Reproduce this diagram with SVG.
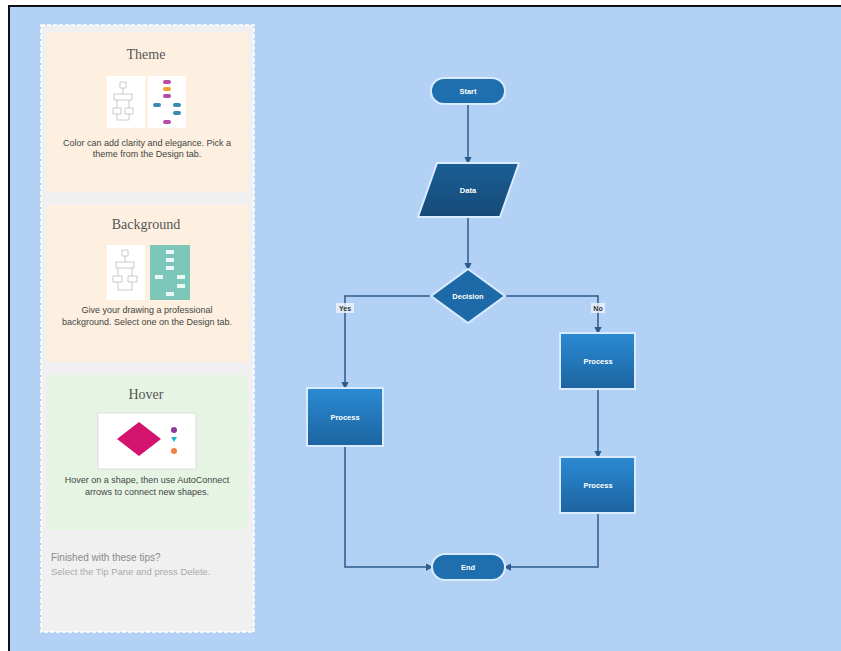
<svg xmlns="http://www.w3.org/2000/svg" width="841" height="651" viewBox="0 0 841 651">
<defs>
<style>
.conn{fill:none;stroke:#2b5a8c;stroke-width:1.5}
.lbl{font-family:"Liberation Sans",Arial,sans-serif;font-size:7.5px;font-weight:bold;fill:#fff;text-anchor:middle}
.title{font-family:"Liberation Serif",serif;font-size:14px;fill:#555;text-anchor:middle}
.body{font-family:"Liberation Sans",Arial,sans-serif;font-size:9px;fill:#444;text-anchor:middle}
.glow{stroke:#d9ecff;stroke-width:2}
.thumb{fill:none;stroke:#aaa;stroke-width:0.6}
</style>
<linearGradient id="gProc" x1="0" y1="0" x2="0" y2="1">
<stop offset="0" stop-color="#2b8ad3"/>
<stop offset="1" stop-color="#1c64a0"/>
</linearGradient>
<linearGradient id="gData" x1="0" y1="0" x2="0" y2="1">
<stop offset="0" stop-color="#1c5f94"/>
<stop offset="1" stop-color="#154a78"/>
</linearGradient>
<marker id="arr" viewBox="0 0 6 6" refX="5" refY="3" markerWidth="5" markerHeight="5" orient="auto">
<path d="M0,0 L6,3 L0,6 z" fill="#2b5a8c"/>
</marker>
</defs>
<rect x="0" y="0" width="841" height="651" fill="#ffffff"/>
<rect x="9" y="7" width="832" height="644" fill="#b3d1f5"/>
<line x1="8" y1="6" x2="841" y2="6" stroke="#111" stroke-width="2"/>
<line x1="9" y1="6" x2="9" y2="651" stroke="#111" stroke-width="2"/>

<g id="tip-pane">
<rect x="41" y="25" width="213" height="607" fill="#f0f0f0" stroke="#ffffff" stroke-width="1.5" stroke-dasharray="4,2"/>
<g id="card-theme">
<rect x="47" y="32" width="201" height="160" rx="3" fill="#fdf0e0"/>
<text class="title" x="146" y="59">Theme</text>
<rect x="107" y="76" width="38" height="52" fill="#fff"/>
<path class="thumb" d="M120,82h6v6h-6z M123,88v6 M114,94h18v6h-18z M117,100v8 M129,100v8 M113,108h8v6h-8z M125,108h8v6h-8z M117,114v6h12v-6"/>
<rect x="148" y="76" width="38" height="52" fill="#fff"/>
<rect x="163" y="80" width="8" height="4" rx="2" fill="#b44ca8"/>
<rect x="163" y="87" width="8" height="4" rx="2" fill="#f0a030"/>
<rect x="163" y="94" width="8" height="4" rx="2" fill="#b44ca8"/>
<rect x="153" y="103" width="8" height="4" rx="2" fill="#3a8ab0"/>
<rect x="173" y="103" width="8" height="4" rx="2" fill="#3a8ab0"/>
<rect x="173" y="111" width="8" height="4" rx="2" fill="#3a8ab0"/>
<rect x="163" y="120" width="8" height="4" rx="2" fill="#b44ca8"/>
<text class="body" x="147" y="146">Color can add clarity and elegance. Pick a</text>
<text class="body" x="147" y="157">theme from the Design tab.</text>
</g>
<g id="card-background">
<rect x="47" y="205" width="201" height="157" rx="3" fill="#fdf0e0"/>
<text class="title" x="146" y="229">Background</text>
<rect x="107" y="245" width="38" height="55" fill="#fff"/>
<path class="thumb" d="M122,250h6v6h-6z M125,256v6 M116,262h18v6h-18z M118,268v8 M132,268v8 M113,276h9v6h-9z M128,276h9v6h-9z M118,282v8h14v-8"/>
<rect x="150" y="245" width="40" height="55" fill="#7cc6ba"/>
<g fill="#e8f8f4">
<rect x="166" y="250" width="8" height="4"/>
<rect x="166" y="258" width="8" height="4"/>
<rect x="166" y="266" width="8" height="4"/>
<rect x="155" y="275" width="8" height="4"/>
<rect x="177" y="275" width="8" height="4"/>
<rect x="177" y="284" width="8" height="4"/>
<rect x="166" y="292" width="8" height="4"/>
</g>
<text class="body" x="147" y="313">Give your drawing a professional</text>
<text class="body" x="147" y="325">background. Select one on the Design tab.</text>
</g>
<g id="card-hover">
<rect x="47" y="375" width="201" height="155" rx="3" fill="#e6f4e4"/>
<text class="title" x="146" y="399">Hover</text>
<rect x="98" y="413" width="98" height="56" fill="#fff" stroke="#ccc" stroke-width="0.6"/>
<path d="M139,422 L161,439 L139,456 L117,439 z" fill="#d4136f"/>
<circle cx="174" cy="430" r="3" fill="#8e3a9a"/>
<path d="M171,437 h6 l-3,5 z" fill="#18b4d0"/>
<circle cx="174" cy="451" r="3" fill="#f08040"/>
<text class="body" x="147" y="483">Hover on a shape, then use AutoConnect</text>
<text class="body" x="147" y="495">arrows to connect new shapes.</text>
</g>
<text x="51" y="561" font-family="Liberation Sans,Arial,sans-serif" font-size="10" fill="#8a8a8a">Finished with these tips?</text>
<text x="51" y="575" font-family="Liberation Sans,Arial,sans-serif" font-size="9.5" fill="#aaaaaa">Select the Tip Pane and press Delete.</text>
</g>

<g id="connectors">
<path class="conn" d="M468,104 V163" marker-end="url(#arr)"/>
<path class="conn" d="M468,217 V269" marker-end="url(#arr)"/>
<path class="conn" d="M431,296 H345 V388" marker-end="url(#arr)"/>
<path class="conn" d="M505,296 H598 V333" marker-end="url(#arr)"/>
<path class="conn" d="M598,389 V457" marker-end="url(#arr)"/>
<path class="conn" d="M345,446 V567 H432" marker-end="url(#arr)"/>
<path class="conn" d="M598,513 V567 H505" marker-end="url(#arr)"/>
<rect x="336" y="303" width="18" height="10" fill="#eef5ff" opacity="0.8"/>
<text x="345" y="311" font-family="Liberation Sans,Arial,sans-serif" font-size="7" font-weight="bold" fill="#333" text-anchor="middle">Yes</text>
<rect x="591" y="303" width="14" height="10" fill="#eef5ff" opacity="0.8"/>
<text x="598" y="311" font-family="Liberation Sans,Arial,sans-serif" font-size="7" font-weight="bold" fill="#333" text-anchor="middle">No</text>
</g>

<g id="node-start">
<rect class="glow" x="431" y="78" width="74" height="26" rx="13" fill="#1f6eae"/>
<text class="lbl" x="468" y="93.5">Start</text>
</g>
<g id="node-data">
<path class="glow" d="M437,163 H519 L500,217 H418 z" fill="url(#gData)"/>
<text class="lbl" x="468" y="192.5">Data</text>
</g>
<g id="node-decision">
<path class="glow" d="M468,269 L505,296 L468,323 L431,296 z" fill="#1e6aa8"/>
<text class="lbl" x="468" y="298.5">Decision</text>
</g>
<g id="node-process-left">
<rect class="glow" x="307" y="388" width="76" height="58" fill="url(#gProc)"/>
<text class="lbl" x="345" y="419.5">Process</text>
</g>
<g id="node-process-right1">
<rect class="glow" x="560" y="333" width="75" height="56" fill="url(#gProc)"/>
<text class="lbl" x="598" y="363.5">Process</text>
</g>
<g id="node-process-right2">
<rect class="glow" x="560" y="457" width="75" height="56" fill="url(#gProc)"/>
<text class="lbl" x="598" y="487.5">Process</text>
</g>
<g id="node-end">
<rect class="glow" x="432" y="554" width="73" height="26" rx="13" fill="#1f6eae"/>
<text class="lbl" x="468" y="569.5">End</text>
</g>
</svg>
